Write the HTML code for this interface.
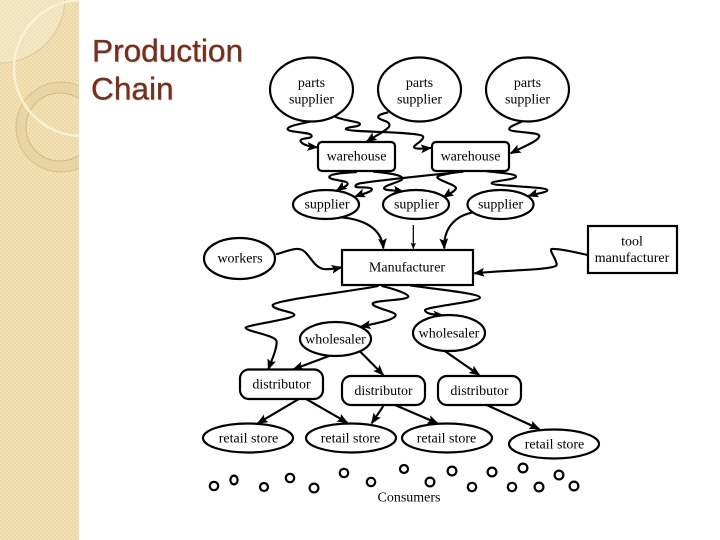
<!DOCTYPE html>
<html>
<head>
<meta charset="utf-8">
<style>
html,body{margin:0;padding:0;background:#fff;}
svg{display:block;}
.n{fill:#fff;stroke:#000;stroke-width:2.2;}
.t{font-family:"Liberation Serif",serif;font-size:14px;fill:#000;text-anchor:middle;}
.h{font-family:"Liberation Sans",sans-serif;font-size:31.6px;fill:#73301f;stroke:#73301f;stroke-width:.3px;}
.s{font-family:"Liberation Sans",sans-serif;font-size:31.6px;fill:#e4d8d0;}
.c{fill:none;stroke:#000;stroke-width:6.4;stroke-linejoin:round;}
.a{marker-end:url(#ar);}
.o{fill:none;stroke:#000;stroke-width:2.2;}
</style>
</head>
<body>
<svg width="720" height="540" viewBox="0 0 720 540" xmlns="http://www.w3.org/2000/svg">
<defs>
<pattern id="ck" width="4" height="4" patternUnits="userSpaceOnUse">
<rect width="4" height="4" fill="#f3e2b8"/>
<rect width="2" height="2" fill="#eed9a6"/>
<rect x="2" y="2" width="2" height="2" fill="#eed9a6"/>
</pattern>
<marker id="ar" viewBox="0 0 10 8" refX="9" refY="4" markerWidth="5.2" markerHeight="4.4" orient="auto" markerUnits="strokeWidth">
<path d="M0 0L10 4L0 8L2 4Z" fill="#000"/>
</marker>
<clipPath id="sb"><rect width="79" height="540"/></clipPath>
</defs>

<rect width="79" height="540" fill="url(#ck)"/>
<g clip-path="url(#sb)">
<circle cx="0" cy="-2" r="65" fill="#f6edd6" fill-opacity=".45" stroke="#d9c9a0" stroke-width="1"/>
<circle cx="61" cy="127" r="39.5" fill="none" stroke="#e9d5a3" stroke-width="10.5"/>
<circle cx="61" cy="127" r="45" fill="none" stroke="#d3bf8d" stroke-width="1"/>
<circle cx="60" cy="127" r="34" fill="none" stroke="#cfba87" stroke-width="1"/>
<circle cx="82" cy="68" r="68" fill="none" stroke="#f9f1d4" stroke-width="2.5"/>
</g>

<text class="s" x="93" y="62.5">Production</text>
<text class="s" x="92" y="100.5">Chain</text>
<text class="h" x="92" y="61.5">Production</text>
<text class="h" x="91" y="99.5">Chain</text>

<!-- connectors top -->
<g transform="translate(260 50) scale(.33333)">
<path class="c a" d="M150 215C120 222 80 228 83 238C86 248 155 245 155 258C155 268 118 262 122 274C126 284 150 290 172 292"/>
<path class="c a" d="M225 200C250 212 300 215 300 222C300 232 255 230 258 238C262 246 470 245 488 258C498 268 460 285 462 292C465 298 490 296 513 294"/>
<path class="c a" d="M385 187C370 190 352 195 355 203C360 212 392 212 388 228C384 240 345 258 320 275"/>
<path class="c a" d="M785 215C770 222 745 230 748 238C752 248 838 245 838 258C838 272 790 290 752 310"/>
<path class="c a" d="M290 366C250 368 205 372 208 382C212 392 265 390 263 402C262 410 245 412 230 422"/>
<path class="c a" d="M340 365C380 368 425 375 428 385C428 395 372 405 372 415C374 422 400 420 430 425"/>
<path class="c a" d="M610 365C540 372 380 388 300 400C280 405 285 412 295 412C315 412 340 412 335 420C330 428 305 432 285 440"/>
<path class="c a" d="M590 366C565 372 530 375 532 382C535 392 590 405 588 415C585 425 565 432 550 442"/>
<path class="c a" d="M680 364C720 368 770 372 768 380C765 390 695 392 695 400C697 408 860 410 862 420C862 428 830 430 805 438"/>
</g>

<!-- connectors middle -->
<g transform="translate(200 210) scale(.33333)">
<path class="c a" d="M425 22C500 30 545 60 550 115"/>
<path class="c a" style="stroke-width:3.8" d="M640 45L640 116"/>
<path class="c a" d="M815 8C760 20 730 60 733 115"/>
<path class="c a" d="M228 133C260 125 290 108 310 122C330 135 340 170 370 177C385 179 405 176 425 172"/>
<path class="c a" d="M545 228C575 235 625 250 625 260C622 272 515 270 518 282C522 295 590 305 587 316C582 330 530 340 482 350"/>
<path class="c a" d="M535 228C450 245 225 270 218 285C215 300 285 305 283 315C280 328 140 345 137 353C137 365 230 375 230 395C230 420 215 450 205 478"/>
<path class="c a" d="M630 226C720 240 840 250 840 263C840 275 680 290 675 300C675 310 700 315 730 316"/>
<path class="c a" d="M390 437L280 478"/>
<path class="c a" d="M480 424L550 495"/>
</g>
<g transform="translate(440 210) scale(.33333)">
<path class="c a" d="M443 135C410 128 360 115 335 117C325 120 352 150 350 165C345 180 200 180 103 190"/>
<path class="c a" d="M10 420L118 495"/>
</g>

<!-- connectors bottom -->
<g transform="translate(190 360) scale(.33333)">
<path class="c a" d="M325 118L203 190"/>
<path class="c a" d="M350 118L472 188"/>
<path class="c a" d="M580 138L545 190"/>
</g>
<g transform="translate(390 360) scale(.33333)">
<path class="c a" d="M15 135L143 190"/>
<path class="c a" d="M290 135L448 207"/>
</g>

<!-- nodes -->
<ellipse class="n" cx="311.5" cy="89.5" rx="41.5" ry="32"/>
<ellipse class="n" cx="419.5" cy="89.5" rx="41.5" ry="32"/>
<ellipse class="n" cx="527.5" cy="89.5" rx="41.5" ry="32"/>
<rect class="n" x="318" y="142" width="77" height="29" rx="4"/>
<rect class="n" x="432" y="142" width="77" height="29" rx="4"/>
<ellipse class="n" cx="326" cy="204.5" rx="33" ry="14.5"/>
<ellipse class="n" cx="416" cy="204.5" rx="33" ry="14.5"/>
<ellipse class="n" cx="500.5" cy="204.5" rx="33" ry="14.5"/>
<ellipse class="n" cx="239.5" cy="258.5" rx="35.5" ry="20.5"/>
<rect class="n" x="342" y="250" width="131" height="35"/>
<rect class="n" x="588" y="226" width="89" height="47"/>
<ellipse class="n" cx="335.5" cy="339" rx="35.5" ry="17"/>
<ellipse class="n" cx="449" cy="333" rx="36" ry="18"/>
<rect class="n" x="240" y="369.5" width="83" height="29.5" rx="9"/>
<rect class="n" x="342" y="376" width="83" height="29" rx="9"/>
<rect class="n" x="438" y="376" width="83" height="29" rx="9"/>
<ellipse class="n" cx="248" cy="438" rx="45" ry="14.5"/>
<ellipse class="n" cx="351" cy="438" rx="45" ry="14.5"/>
<ellipse class="n" cx="447" cy="438" rx="45" ry="14.5"/>
<ellipse class="n" cx="554" cy="444" rx="45" ry="14.5"/>

<!-- consumers -->
<circle class="o" cx="214" cy="486" r="4.2"/>
<ellipse class="o" cx="234" cy="480" rx="3.6" ry="4.4"/>
<circle class="o" cx="264" cy="487" r="4"/>
<circle class="o" cx="290" cy="478" r="4.2"/>
<circle class="o" cx="314" cy="488" r="4.4"/>
<circle class="o" cx="344" cy="473" r="4.2"/>
<circle class="o" cx="371" cy="482" r="4.2"/>
<circle class="o" cx="404" cy="469" r="4"/>
<circle class="o" cx="430" cy="482" r="4.4"/>
<circle class="o" cx="452" cy="471" r="4.4"/>
<circle class="o" cx="472" cy="487" r="4.2"/>
<circle class="o" cx="492" cy="472" r="4.4"/>
<circle class="o" cx="523" cy="468" r="4.4"/>
<circle class="o" cx="512" cy="487" r="4.2"/>
<circle class="o" cx="539" cy="487" r="4.4"/>
<circle class="o" cx="559" cy="475" r="4.4"/>
<circle class="o" cx="574" cy="486" r="4.4"/>

<!-- labels -->
<text class="t" x="311.5" y="87">parts</text>
<text class="t" x="311.5" y="103.5">supplier</text>
<text class="t" x="419.5" y="87">parts</text>
<text class="t" x="419.5" y="103.5">supplier</text>
<text class="t" x="527.5" y="87">parts</text>
<text class="t" x="527.5" y="103.5">supplier</text>
<text class="t" x="356.5" y="160.5">warehouse</text>
<text class="t" x="470.5" y="160.5">warehouse</text>
<text class="t" x="327" y="208.5">supplier</text>
<text class="t" x="416.5" y="208.5">supplier</text>
<text class="t" x="500.5" y="208.5">supplier</text>
<text class="t" x="240" y="262.5">workers</text>
<text class="t" x="407" y="271.5">Manufacturer</text>
<text class="t" x="632" y="245.5">tool</text>
<text class="t" x="632" y="262">manufacturer</text>
<text class="t" x="335.5" y="343.5">wholesaler</text>
<text class="t" x="449" y="337.5">wholesaler</text>
<text class="t" x="281.5" y="388.5">distributor</text>
<text class="t" x="383.5" y="395">distributor</text>
<text class="t" x="479.5" y="395">distributor</text>
<text class="t" x="248.5" y="442.5">retail store</text>
<text class="t" x="350.5" y="442.5">retail store</text>
<text class="t" x="446.5" y="442.5">retail store</text>
<text class="t" x="554.5" y="448.5">retail store</text>
<text class="t" x="409" y="501.5">Consumers</text>
</svg>
</body>
</html>
